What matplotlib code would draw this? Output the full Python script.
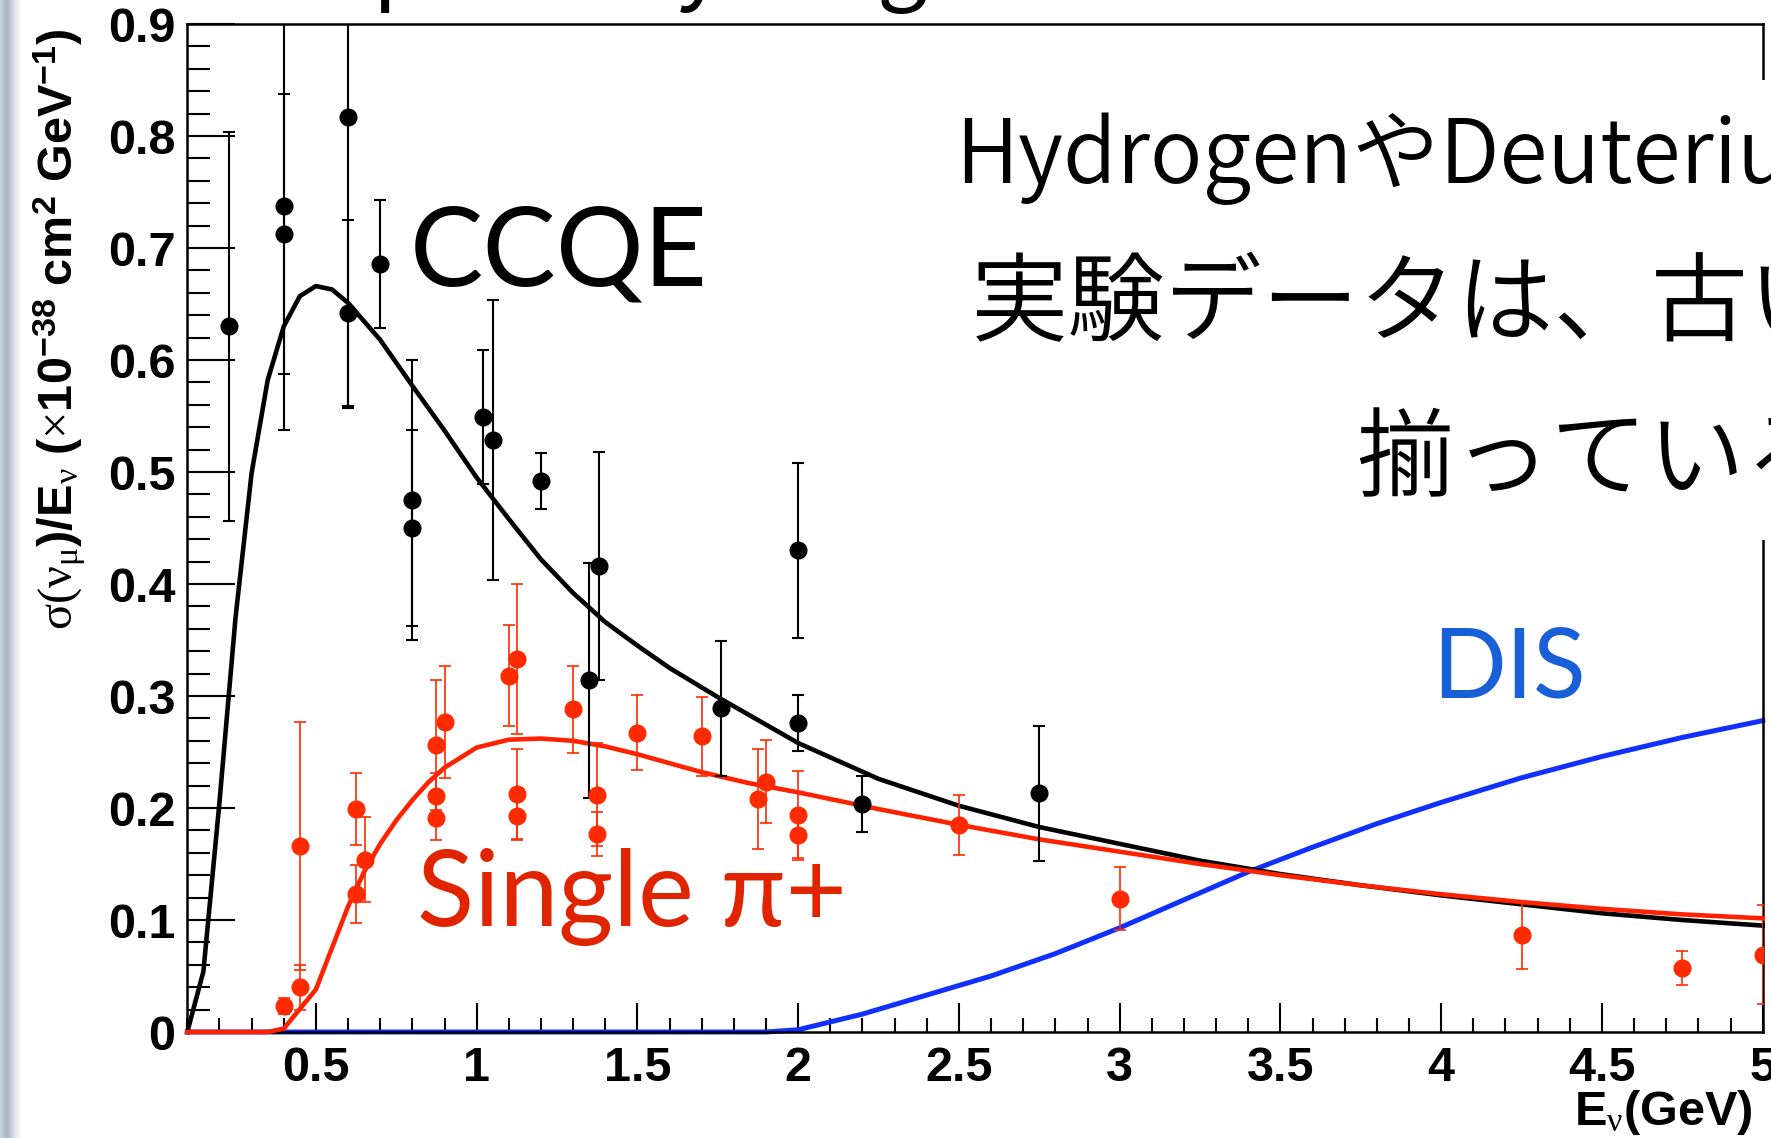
import numpy as np
import matplotlib.pyplot as plt
from matplotlib.ticker import MultipleLocator
from matplotlib.patches import Rectangle
from matplotlib.colors import LinearSegmentedColormap

plt.rcParams['mathtext.fontset'] = 'custom'
plt.rcParams['mathtext.rm'] = 'Liberation Serif'
plt.rcParams['mathtext.it'] = 'Liberation Serif'
plt.rcParams['mathtext.bf'] = 'Liberation Sans:bold'

# model curves, E_nu (GeV) vs sigma/E (1e-38 cm^2/GeV)
ccqe_e = [0.1, 0.15, 0.2, 0.25, 0.3, 0.35, 0.4, 0.45, 0.5, 0.55, 0.6, 0.7, 0.8, 0.9,
          1.0, 1.1, 1.2, 1.3, 1.4, 1.5, 1.6, 1.75, 2.0, 2.25, 2.5, 2.75, 3.0, 3.25,
          3.5, 3.75, 4.0, 4.25, 4.5, 4.75, 5.0]
ccqe_xs = [0.0, 0.054, 0.205, 0.37, 0.499, 0.582, 0.630, 0.657, 0.666, 0.663, 0.651,
           0.618, 0.577, 0.537, 0.495, 0.458, 0.422, 0.392, 0.366, 0.345, 0.325, 0.299,
           0.258, 0.226, 0.202, 0.183, 0.168, 0.153, 0.141, 0.131, 0.122, 0.114, 0.106,
           0.100, 0.095]

pi_e = [0.1, 0.35, 0.4, 0.5, 0.55, 0.6, 0.65, 0.7, 0.75, 0.8, 0.85, 0.9, 1.0, 1.1, 1.2,
        1.3, 1.4, 1.5, 1.6, 1.7, 1.85, 2.0, 2.25, 2.5, 2.75, 3.0, 3.25, 3.5, 3.75, 4.0,
        4.25, 4.5, 4.75, 5.0]
pi_xs = [0.0, 0.0, 0.003, 0.038, 0.075, 0.112, 0.143, 0.168, 0.189, 0.207, 0.223, 0.236,
         0.254, 0.261, 0.262, 0.260, 0.255, 0.248, 0.240, 0.232, 0.222, 0.214, 0.199,
         0.185, 0.172, 0.161, 0.150, 0.140, 0.131, 0.123, 0.116, 0.110, 0.105, 0.1015]

dis_e = [0.1, 1.9, 2.0, 2.2, 2.4, 2.6, 2.8, 3.0, 3.2, 3.4, 3.6, 3.8, 4.0, 4.25, 4.5,
         4.75, 5.0]
dis_xs = [0.0, 0.0, 0.002, 0.016, 0.033, 0.050, 0.070, 0.093, 0.118, 0.143, 0.165,
          0.186, 0.205, 0.227, 0.246, 0.263, 0.278]

# measurements
ccqe_data_e = [0.23, 0.4, 0.4, 0.6, 0.6, 0.7, 0.8, 0.8, 1.02, 1.05, 1.2, 1.35, 1.38,
               1.76, 2.0, 2.0, 2.2, 2.75]
ccqe_data_xs = [0.630, 0.7375, 0.7125, 0.817, 0.642, 0.686, 0.475, 0.450, 0.549, 0.529,
                0.492, 0.314, 0.416, 0.289, 0.430, 0.276, 0.204, 0.213]
ccqe_data_err = [0.174, 0.20, 0.125, 0.26, 0.083, 0.057, 0.125, 0.0875, 0.06, 0.125,
                 0.025, 0.105, 0.102, 0.06, 0.078, 0.025, 0.025, 0.06]

pi_data_e = [0.4, 0.45, 0.45, 0.625, 0.625, 0.653, 0.875, 0.9, 0.875, 0.875, 1.1, 1.125,
             1.125, 1.125, 1.3, 1.375, 1.375, 1.5, 1.7, 1.875, 1.9, 2.0, 2.0, 2.5, 3.0,
             4.25, 4.75, 5.0]
pi_data_xs = [0.023, 0.166, 0.040, 0.199, 0.123, 0.154, 0.256, 0.277, 0.211, 0.191,
              0.318, 0.333, 0.2125, 0.193, 0.288, 0.212, 0.177, 0.267, 0.264, 0.208,
              0.2235, 0.194, 0.176, 0.185, 0.119, 0.0865, 0.057, 0.069]
pi_data_err = [0.007, 0.111, 0.020, 0.032, 0.026, 0.038, 0.058, 0.050, 0.020, 0.020,
               0.045, 0.067, 0.040, 0.022, 0.039, 0.046, 0.0195, 0.0335, 0.035, 0.045,
               0.037, 0.039, 0.022, 0.027, 0.028, 0.030, 0.015, 0.044]

x_ticks = [0.5, 1, 1.5, 2, 2.5, 3, 3.5, 4, 4.5, 5]
x_tick_labels = ['0.5', '1', '1.5', '2', '2.5', '3', '3.5', '4', '4.5', '5']
y_ticks = [0, 0.1, 0.2, 0.3, 0.4, 0.5, 0.6, 0.7, 0.8, 0.9]
y_tick_labels = ['0', '0.1', '0.2', '0.3', '0.4', '0.5', '0.6', '0.7', '0.8', '0.9']

W, H = 1771, 1138
fig = plt.figure(figsize=(W / 100, H / 100), dpi=100)

# slide shadow on the left edge
bg = fig.add_axes([0, 0, 22 / W, 1])
grad = np.linspace(0, 1, 64).reshape(1, -1)
shade = LinearSegmentedColormap.from_list('shade', ['#c9d2dc', '#a9b5c2', '#dde3e9', '#ffffff'])
bg.imshow(grad, aspect='auto', cmap=shade)
bg.axis('off')

ax = fig.add_axes([187.3 / W, 1 - 1032 / H, (1762.7 - 187.3) / W, (1032 - 24) / H])

ax.plot(dis_e, dis_xs, color='#1030ff', lw=3.6, clip_on=False, zorder=2)
ax.plot(ccqe_e, ccqe_xs, color='black', lw=3.3, clip_on=False, zorder=3)
ax.plot(pi_e, pi_xs, color='#ff2200', lw=3.3, clip_on=False, zorder=4)

ax.errorbar(ccqe_data_e, ccqe_data_xs, yerr=ccqe_data_err, fmt='o', color='black',
            ms=12, elinewidth=1.5, capsize=4.3, capthick=1.5, zorder=5)
ax.errorbar(pi_data_e, pi_data_xs, yerr=pi_data_err, fmt='o', color='#ff2a00',
            ms=12, elinewidth=1.2, capsize=4.3, capthick=1.2, zorder=6)

ax.set_xlim(0.1, 5)
ax.set_ylim(0, 0.9)
ax.set_xticks(x_ticks, x_tick_labels)
ax.set_yticks(y_ticks, y_tick_labels)
ax.xaxis.set_minor_locator(MultipleLocator(0.1))
ax.yaxis.set_minor_locator(MultipleLocator(0.02))
ax.tick_params(which='both', direction='in', top=False, right=False, width=1.5,
               labelsize=35)
ax.tick_params(axis='x', which='major', length=21, pad=10)
ax.tick_params(axis='x', which='minor', length=10)
ax.tick_params(axis='y', which='major', length=34.5, pad=8.6)
ax.tick_params(axis='y', which='minor', length=16.5)
for lab in ax.get_xticklabels() + ax.get_yticklabels():
    lab.set_fontfamily('Liberation Sans')
    lab.set_fontweight('bold')
for sp in ax.spines.values():
    sp.set_linewidth(1.8)

fig.text(1753 / W, 1 - 1125 / H, r'$\mathbf{E}_{\nu}\mathbf{(GeV)}$', fontsize=35,
         ha='right', va='baseline')
fig.text(72 / W, 1 - 28 / H,
         r'$\sigma(\nu_{\mu}\mathbf{)/E}_{\nu}\ \mathbf{(}{\times}\mathbf{10}^{\mathbf{-38}}'
         r'\ \mathbf{cm}^{\mathbf{2}}\ \mathbf{GeV}^{\mathbf{-1}}\mathbf{)}$',
         fontsize=35, rotation=90, rotation_mode='anchor', ha='right', va='baseline')

# white text box of the slide hiding part of the right frame
fig.patches.append(Rectangle((1700 / W, 1 - 540 / H), 71 / W, 460 / H,
                             transform=fig.transFigure, facecolor='white',
                             edgecolor='none', zorder=1))

fig.text(410 / W, 1 - 285 / H, 'CCQE', fontsize=79, family=['Lato', 'DejaVu Sans'],
         color='black', va='baseline')
fig.text(417 / W, 1 - 926 / H, 'Single π+', fontsize=76, family=['Lato', 'DejaVu Sans'],
         color='#e02400', va='baseline')
fig.text(1432 / W, 1 - 697 / H, 'DIS', fontsize=70, family=['Lato', 'DejaVu Sans'],
         color='#195fd7', va='baseline')

jp = ['Noto Sans CJK JP', 'DejaVu Sans']
fig.text(955 / W, 1 - 183 / H, 'HydrogenやDeuterium', fontsize=63, family=jp,
         weight=350, va='baseline')
fig.text(971 / W, 1 - 334 / H, '実験データは、古い', fontsize=70, family=jp,
         weight=350, va='baseline')
fig.text(1356 / W, 1 - 489 / H, '揃っている', fontsize=70, family=jp,
         weight=350, va='baseline')

# bottoms of the slide title, cut off by the top edge
for ch, xc in zip(['p', 'y', 'g'], [400, 700, 902]):
    fig.text(xc / W, 1 + 8 / H, ch, fontsize=64, family=jp, ha='center', va='baseline')

fig.savefig('out.png', dpi=100)
